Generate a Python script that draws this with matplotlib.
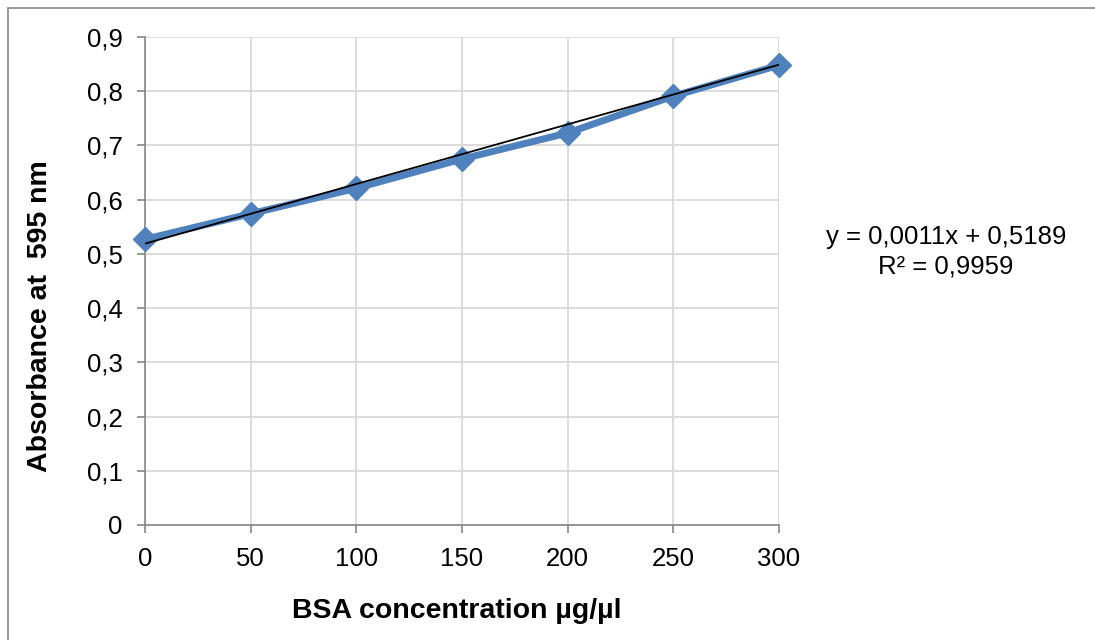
import matplotlib.pyplot as plt
from matplotlib.patches import Rectangle
from matplotlib.ticker import FuncFormatter

plt.rcParams["font.family"] = ["Liberation Sans", "DejaVu Sans"]

conc = [0, 50, 100, 150, 200, 250, 300]
absorb = [0.527, 0.574, 0.621, 0.675, 0.723, 0.791, 0.848]
slope = 0.0011
intercept = 0.5189
r2 = 0.9959

BLUE = "#4F81BD"
GRID = "#D9D9D9"
AXIS = "#868686"

fig = plt.figure(figsize=(10.95, 6.4), dpi=100)
fig.patches.append(Rectangle((8 / 1095, -0.1), 1.2, 1 - 8 / 640 + 0.1,
                             transform=fig.transFigure, fill=False,
                             edgecolor="#868686", linewidth=1.2))

ax = fig.add_axes([145 / 1095, 1 - 525 / 640, (779 - 145) / 1095, (525 - 37) / 640])
ax.plot(conc, absorb, color=BLUE, linewidth=5, marker="D", markersize=12.5,
        markeredgecolor=BLUE, zorder=3, clip_on=False)
fit = [slope * x + intercept for x in conc]
ax.plot([conc[0], conc[-1]], [fit[0], fit[-1]], color="black", linewidth=1.3, zorder=4)

ax.set_xlim(0, 300)
ax.set_ylim(0, 0.9)
ax.set_xticks(range(0, 301, 50))
ax.set_yticks([i / 10 for i in range(10)])
ax.yaxis.set_major_formatter(FuncFormatter(lambda v, p: f"{v:.1f}".replace(".", ",") if v else "0"))
ax.tick_params(labelsize=18.5, length=6, color=AXIS, width=1.2, pad=10)
ax.grid(color=GRID, linewidth=1.3)
ax.set_axisbelow(True)
for side in ("top", "right"):
    ax.spines[side].set_visible(False)
for side in ("left", "bottom"):
    ax.spines[side].set_color(AXIS)
    ax.spines[side].set_linewidth(1.2)

fig.text(40 / 1095, 1 - 316 / 640, "Absorbance at  595 nm", rotation=90, ha="center",
         va="center", fontsize=20.5, fontweight="bold")
fig.text(457 / 1095, 1 - 611 / 640, "BSA concentration µg/µl", ha="center",
         va="center", fontsize=20.5, fontweight="bold")
fig.text(946 / 1095, 1 - 252 / 640,
         f"y = {slope:.4f}x + {intercept:.4f}\nR² = {r2:.4f}".replace(".", ","),
         ha="center", va="center", fontsize=18.5, linespacing=1.3)

fig.savefig("out.png", dpi=100)
